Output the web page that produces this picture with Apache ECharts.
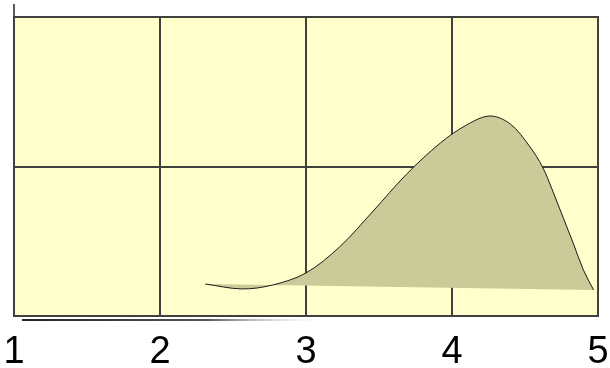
<!DOCTYPE html>
<html>
<head>
<meta charset="utf-8">
<script src="https://cdn.jsdelivr.net/npm/echarts@6/dist/echarts.min.js"></script>
<style>html,body{margin:0;padding:0;background:#fff;}#c{width:610px;height:368px;}</style>
</head>
<body>
<div id="c"></div>
<script>
// Data
var xTicks = [1, 2, 3, 4, 5];
var curveX = [2.31, 2.56, 2.77, 3.00, 3.23, 3.46, 3.69, 3.92, 4.10, 4.26, 4.40, 4.53, 4.62, 4.69, 4.76, 4.83, 4.90, 4.97];
var curveY = [0.214, 0.181, 0.207, 0.288, 0.462, 0.702, 0.950, 1.157, 1.278, 1.338, 1.284, 1.137, 0.997, 0.836, 0.662, 0.488, 0.308, 0.174];

var chart = echarts.init(document.getElementById('c'), null, {renderer: 'canvas'});

function dist(a, b) { var dx = a[0] - b[0], dy = a[1] - b[1]; return Math.sqrt(dx * dx + dy * dy); }

function splinePath(pts, close) {
  var n = pts.length, m = [];
  for (var i = 0; i < n; i++) {
    var a = pts[i === 0 ? 0 : i - 1], b = pts[i === n - 1 ? n - 1 : i + 1];
    var L = dist(a, pts[i]) + dist(pts[i], b);
    m.push([(b[0] - a[0]) / L, (b[1] - a[1]) / L]);
  }
  var d = 'M' + pts[0][0] + ' ' + pts[0][1];
  for (var j = 0; j < n - 1; j++) {
    var p1 = pts[j], p2 = pts[j + 1], s = dist(p1, p2) / 3;
    d += ' C' + (p1[0] + m[j][0] * s) + ' ' + (p1[1] + m[j][1] * s) + ' ' +
         (p2[0] - m[j + 1][0] * s) + ' ' + (p2[1] - m[j + 1][1] * s) + ' ' + p2[0] + ' ' + p2[1];
  }
  if (close) d += ' Z';
  return d;
}

var seriesData = curveX.map(function (x, i) { return [x, curveY[i]]; });

chart.setOption({
  animation: false,
  backgroundColor: '#ffffff',
  grid: {
    left: 14, right: 12, top: 17, bottom: 52,
    outerBoundsMode: 'none', containLabel: false,
    show: true, backgroundColor: '#ffffcc', borderColor: '#404040', borderWidth: 2
  },
  xAxis: {
    type: 'value', min: 1, max: 5, interval: 1,
    axisLine: {show: false}, axisTick: {show: false},
    splitLine: {show: true, lineStyle: {color: '#404040', width: 2}},
    axisLabel: {
      show: true, margin: 18, color: '#000', fontSize: 38, fontFamily: 'Liberation Sans, Arial, sans-serif',
      formatter: function (v) { return xTicks.indexOf(v) >= 0 ? String(v) : ''; }
    }
  },
  yAxis: {
    type: 'value', min: 0, max: 2, interval: 1,
    axisLine: {show: false}, axisTick: {show: false}, axisLabel: {show: false},
    splitLine: {show: true, lineStyle: {color: '#404040', width: 2}}
  },
  graphic: [
    {type: 'line', shape: {x1: 14, y1: 4, x2: 14, y2: 17}, style: {stroke: '#222', lineWidth: 1.5}},
    {type: 'line', shape: {x1: 22, y1: 320, x2: 330, y2: 320},
     style: {lineWidth: 2, stroke: new echarts.graphic.LinearGradient(0, 0, 1, 0, [
       {offset: 0, color: '#222'}, {offset: 0.6, color: '#555'}, {offset: 1, color: 'rgba(255,255,255,0)'}])}}
  ],
  series: [{
    type: 'custom',
    coordinateSystem: 'cartesian2d',
    data: seriesData,
    renderItem: function (params, api) {
      if (params.dataIndex !== 0) return null;
      var pts = curveX.map(function (x, i) { return api.coord([x, curveY[i]]); });
      return {
        type: 'group',
        children: [
          {type: 'path', shape: {pathData: splinePath(pts, true)}, style: {fill: '#cbcb99', stroke: null}},
          {type: 'path', shape: {pathData: splinePath(pts, false)}, style: {fill: null, stroke: '#1a1a1a', lineWidth: 1}}
        ]
      };
    }
  }]
});
</script>
</body>
</html>
